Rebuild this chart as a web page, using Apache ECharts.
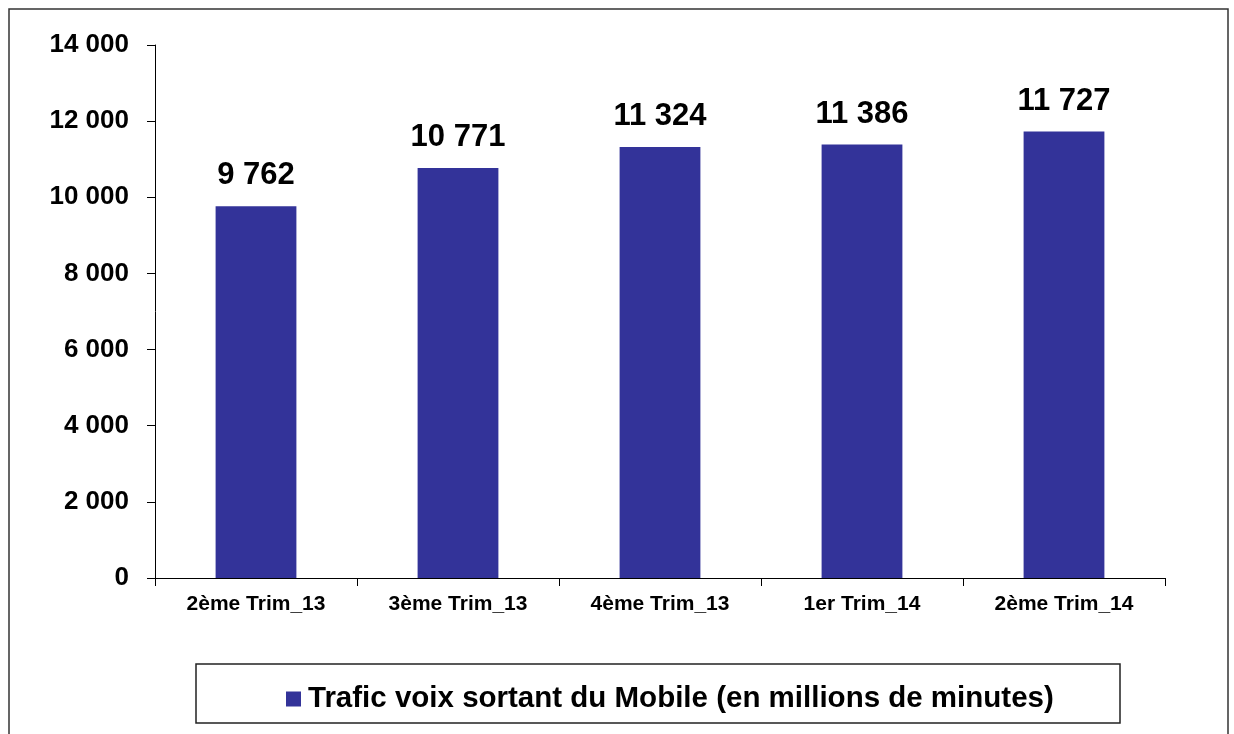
<!DOCTYPE html>
<html>
<head>
<meta charset="utf-8">
<script src="https://cdn.jsdelivr.net/npm/echarts@6/dist/echarts.min.js"></script>
<style>
html, body { margin: 0; padding: 0; background: #fff; }
#chart { width: 1234px; height: 734px; }
</style>
</head>
<body>
<div id="chart"></div>
<script>
// données
var categories = ['2ème Trim_13', '3ème Trim_13', '4ème Trim_13', '1er Trim_14', '2ème Trim_14'];
var trafic = [9762, 10771, 11324, 11386, 11727];
var serieName = 'Trafic voix sortant du Mobile (en millions de minutes)';

function fmtMilliers(v) {
    return String(v).replace(/\B(?=(\d{3})+(?!\d))/g, ' ');
}

var chart = echarts.init(document.getElementById('chart'));
var font = 'Liberation Sans, Arial, sans-serif';

var option = {
    animation: false,
    textStyle: { fontFamily: font },
    graphic: [
        {
            type: 'rect',
            shape: { x: 9, y: 9, width: 1219, height: 740 },
            style: { fill: 'none', stroke: '#333', lineWidth: 1.5 },
            silent: true
        },
        {
            type: 'rect',
            shape: { x: 196, y: 664, width: 924, height: 59 },
            style: { fill: 'none', stroke: '#222', lineWidth: 1.5 },
            silent: true
        }
    ],
    legend: {
        left: 281,
        top: 679,
        itemWidth: 15,
        itemHeight: 15,
        itemGap: 6,
        icon: 'rect',
        textStyle: { fontSize: 29.5, fontWeight: 'bold', color: '#000', fontFamily: font, padding: [0, 0, 0, 2] },
        data: [serieName]
    },
    grid: { left: 155, right: 69, top: 45, bottom: 156, containLabel: false },
    xAxis: {
        type: 'category',
        data: categories,
        axisLine: { lineStyle: { color: '#000', width: 1 } },
        axisTick: { show: true, length: 8, lineStyle: { color: '#000' } },
        axisLabel: { margin: 16, fontSize: 21, fontWeight: 'bold', color: '#000', fontFamily: font },
        splitLine: { show: false }
    },
    yAxis: {
        type: 'value',
        min: 0,
        max: 14000,
        interval: 2000,
        axisLine: { show: true, lineStyle: { color: '#000', width: 1 } },
        axisTick: { show: true, length: 8, lineStyle: { color: '#000' } },
        axisLabel: {
            margin: 26,
            fontSize: 26,
            fontWeight: 'bold',
            color: '#000',
            fontFamily: font,
            formatter: fmtMilliers
        },
        splitLine: { show: false }
    },
    series: [
        {
            name: serieName,
            type: 'bar',
            data: trafic,
            barWidth: '40%',
            itemStyle: { color: '#333399' },
            label: {
                show: true,
                position: 'top',
                distance: 15,
                fontSize: 31,
                fontWeight: 'bold',
                color: '#000',
                fontFamily: font,
                formatter: function (p) { return fmtMilliers(p.value); }
            }
        }
    ]
};
chart.setOption(option);
</script>
</body>
</html>
